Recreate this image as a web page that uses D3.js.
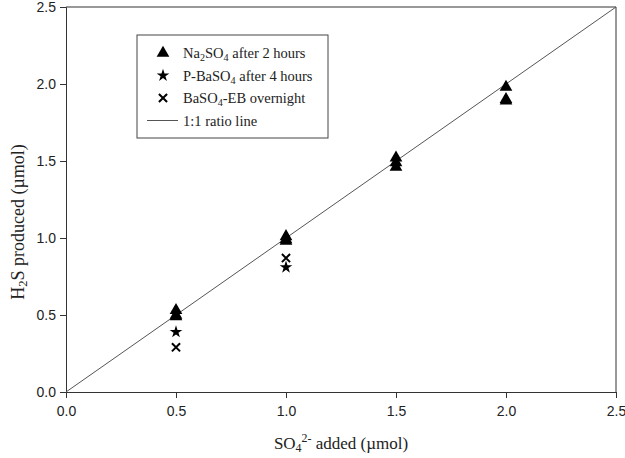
<!DOCTYPE html>
<html>
<head>
<meta charset="utf-8">
<script src="https://cdn.jsdelivr.net/npm/d3@7"></script>
<style>
  body { margin: 0; background: #fff; }
  svg { font-family: "Liberation Serif", "DejaVu Serif", serif; }
  .axis text { font-size: 14px; fill: #222; }
  .axis path, .axis line { stroke: #333; }
</style>
</head>
<body>
<div id="chart"></div>
<script>
// === data ===
const xTicks = [0.0, 0.5, 1.0, 1.5, 2.0, 2.5];
const yTicks = [0.0, 0.5, 1.0, 1.5, 2.0, 2.5];

// Na2SO4 after 2 hours (triplicates)
const naAdded    = [0.5, 0.5, 0.5, 1.0, 1.0, 1.0, 1.5, 1.5, 1.5, 2.0, 2.0, 2.0];
const naProduced = [0.53, 0.50, 0.49, 1.01, 0.99, 0.98, 1.52, 1.49, 1.46, 1.98, 1.90, 1.89];

// P-BaSO4 after 4 hours
const pAdded    = [0.5, 1.0];
const pProduced = [0.39, 0.81];

// BaSO4-EB overnight
const ebAdded    = [0.5, 1.0];
const ebProduced = [0.29, 0.87];

const ratioLine = [0, 2.5];

// === layout ===
const width = 625, height = 458;
const margin = {top: 7, right: 9, bottom: 66, left: 66};
const w = width - margin.left - margin.right;
const h = height - margin.top - margin.bottom;

const svg = d3.select("#chart").append("svg")
    .attr("width", width).attr("height", height);
const g = svg.append("g").attr("transform", `translate(${margin.left},${margin.top})`);

const x = d3.scaleLinear().domain([0, 2.5]).range([0, w]);
const y = d3.scaleLinear().domain([0, 2.5]).range([h, 0]);

// axes
g.append("g").attr("class", "axis").attr("transform", `translate(0,${h})`)
    .call(d3.axisBottom(x).tickValues(xTicks).tickFormat(d3.format(".1f")).tickSize(6).tickPadding(8));
g.append("g").attr("class", "axis")
    .call(d3.axisLeft(y).tickValues(yTicks).tickFormat(d3.format(".1f")).tickSize(6).tickPadding(4));

// frame top + right
g.append("line").attr("x1", 0).attr("x2", w).attr("y1", 0).attr("y2", 0).attr("stroke", "#333");
g.append("line").attr("x1", w).attr("x2", w).attr("y1", 0).attr("y2", h).attr("stroke", "#333");

// 1:1 line
g.append("line")
    .attr("x1", x(ratioLine[0])).attr("y1", y(ratioLine[0]))
    .attr("x2", x(ratioLine[1])).attr("y2", y(ratioLine[1]))
    .attr("stroke", "#555").attr("stroke-width", 1);

const tri = d3.symbol().type(d3.symbolTriangle).size(70);
const star = d3.symbol().type(d3.symbolStar).size(50);
const cross = d3.symbol().type(d3.symbolTimes).size(45);

g.selectAll(".na").data(d3.zip(naAdded, naProduced)).join("path")
    .attr("class", "na").attr("d", tri)
    .attr("transform", d => `translate(${x(d[0])},${y(d[1])})`)
    .attr("fill", "#000");

g.selectAll(".pb").data(d3.zip(pAdded, pProduced)).join("path")
    .attr("class", "pb").attr("d", star)
    .attr("transform", d => `translate(${x(d[0])},${y(d[1])})`)
    .attr("fill", "#000");

g.selectAll(".eb").data(d3.zip(ebAdded, ebProduced)).join("path")
    .attr("class", "eb").attr("d", cross)
    .attr("transform", d => `translate(${x(d[0])},${y(d[1])})`)
    .attr("fill", "none").attr("stroke", "#000").attr("stroke-width", 2);

// legend
const lg = svg.append("g").attr("transform", "translate(137,35)");
lg.append("rect").attr("width", 191).attr("height", 103)
    .attr("fill", "#fff").attr("stroke", "#444").attr("stroke-width", 1);

function subText(sel, parts) {
  // parts: [text, "sub"|"sup"|null]
  parts.forEach(([t, k]) => {
    const ts = sel.append("tspan").text(t);
    if (k === "sub") ts.attr("font-size", "0.7em").attr("baseline-shift", "-25%");
    if (k === "sup") ts.attr("font-size", "0.7em").attr("baseline-shift", "55%");
  });
}

const rows = [
  {sym: tri, fill: "#000", stroke: "none", parts: [["Na", null], ["2", "sub"], ["SO", null], ["4", "sub"], [" after 2 hours", null]]},
  {sym: star, fill: "#000", stroke: "none", parts: [["P-BaSO", null], ["4", "sub"], [" after 4 hours", null]]},
  {sym: cross, fill: "none", stroke: "#000", parts: [["BaSO", null], ["4", "sub"], ["-EB overnight", null]]},
  {sym: null, parts: [["1:1 ratio line", null]]}
];
rows.forEach((r, i) => {
  const cy = 18 + i * 22.5;
  if (r.sym) {
    lg.append("path").attr("d", r.sym).attr("transform", `translate(26,${cy})`)
      .attr("fill", r.fill).attr("stroke", r.stroke).attr("stroke-width", 2);
  } else {
    lg.append("line").attr("x1", 10).attr("x2", 41).attr("y1", cy).attr("y2", cy)
      .attr("stroke", "#555");
  }
  const t = lg.append("text").attr("x", 46).attr("y", cy + 5).attr("font-size", 14.5).attr("fill", "#222");
  subText(t, r.parts);
});

// axis titles
const xt = svg.append("text").attr("x", margin.left + w / 2).attr("y", 449)
    .attr("text-anchor", "middle").attr("font-size", 17).attr("fill", "#222");
subText(xt, [["SO", null], ["4", "sub"], ["2-", "sup"], [" added (\u00b5mol)", null]]);

const yt = svg.append("text")
    .attr("transform", `translate(24,222) rotate(-90)`)
    .attr("text-anchor", "middle").attr("font-size", 18).attr("fill", "#222");
subText(yt, [["H", null], ["2", "sub"], ["S produced (\u00b5mol)", null]]);
</script>
</body>
</html>
